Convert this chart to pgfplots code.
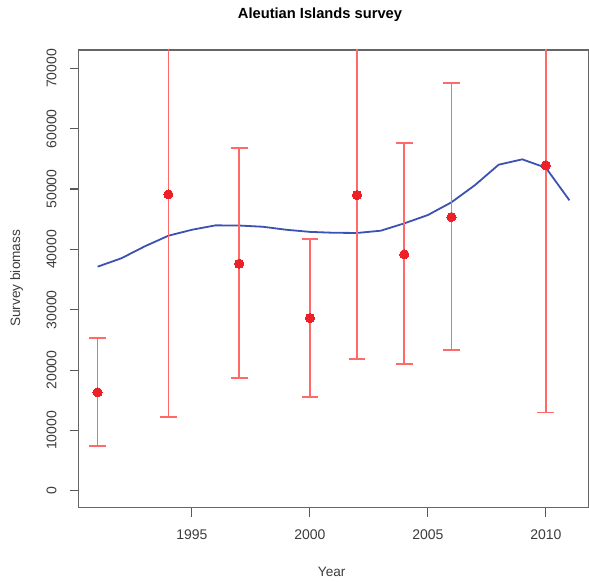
\documentclass[border=0pt]{standalone}
\usepackage{pgfplots}
\pgfplotsset{compat=1.18}
\usepackage{pgfplotstable}
\usepackage{fontspec}
\setmainfont{Liberation Sans}
\definecolor{fitblue}{RGB}{60,82,178}
\definecolor{barred}{RGB}{255,105,105}
\definecolor{dotred}{RGB}{236,32,38}
\definecolor{labgray}{RGB}{60,60,60}

\pgfplotstableread{
x y
1991 37130
1992 38510
1993 40500
1994 42260
1995 43250
1996 43980
1997 43950
1998 43750
1999 43250
2000 42900
2001 42750
2002 42720
2003 43090
2004 44310
2005 45690
2006 47800
2007 50660
2008 54030
2009 54920
2010 53530
2011 48130
}\fitdata

\pgfplotstableread{
x y ep em
1991 16300 9010 8890
1994 49120 45880 36860
1997 37620 19220 18990
2000 28620 13090 13140
2002 49000 46000 27170
2004 39180 18500 18230
2006 45360 22260 21990
2010 53930 45000 40940
}\obsdata

\begin{document}
\begin{tikzpicture}
\begin{axis}[
  at={(0pt,0pt)}, anchor=south west,
  scale only axis,
  width=509.6pt, height=457.7pt,
  xmin=1990.2, xmax=2011.8,
  ymin=-2809, ymax=73039,
  xtick={1995,2000,2005,2010},
  ytick={0,10000,20000,30000,40000,50000,60000,70000},
  scaled ticks=false,
  xticklabel={\pgfmathprintnumber[1000 sep={}]{\tick}},
  yticklabel={\pgfmathprintnumber[1000 sep={},fixed]{\tick}},
  /pgf/number format/assume math mode=true,
  tick align=outside,
  xtick pos=bottom, ytick pos=left,
  major tick length=9pt,
  tick style={black!65, line width=1.1pt},
  axis line style={black!60, line width=1.2pt},
  ticklabel style={font=\fontsize{14}{16}\selectfont, text=labgray, inner sep=0pt},
  xticklabel style={anchor=north, yshift=-13pt},
  yticklabel style={rotate=90, anchor=south, yshift=13pt},
  clip=true,
]
\addplot[fitblue, line width=1.8pt, mark=none] table[x=x,y=y]{\fitdata};
\addplot[only marks, mark=*, mark size=4.6pt, mark options={fill=dotred, draw=dotred, line width=0pt},
  error bars/.cd, y dir=both, y explicit,
  error bar style={barred, line width=1.7pt},
  error mark options={barred, line width=1.7pt, mark size=8.4pt, rotate=90}]
  table[x=x, y=y, y error plus=ep, y error minus=em]{\obsdata};
\end{axis}
\node[font=\fontsize{14.7}{17}\selectfont\bfseries] at (241.3pt,492.7pt) {Aleutian Islands survey};
\node[font=\fontsize{13.6}{16}\selectfont, text=labgray] at (253pt,-64pt) {Year};
\node[font=\fontsize{13.6}{16}\selectfont, text=labgray, rotate=90] at (-62pt,229.4pt) {Survey biomass};
\path[use as bounding box] (-78.7pt,-75.3pt) rectangle (510.3pt,507.7pt);
\end{tikzpicture}
\end{document}
